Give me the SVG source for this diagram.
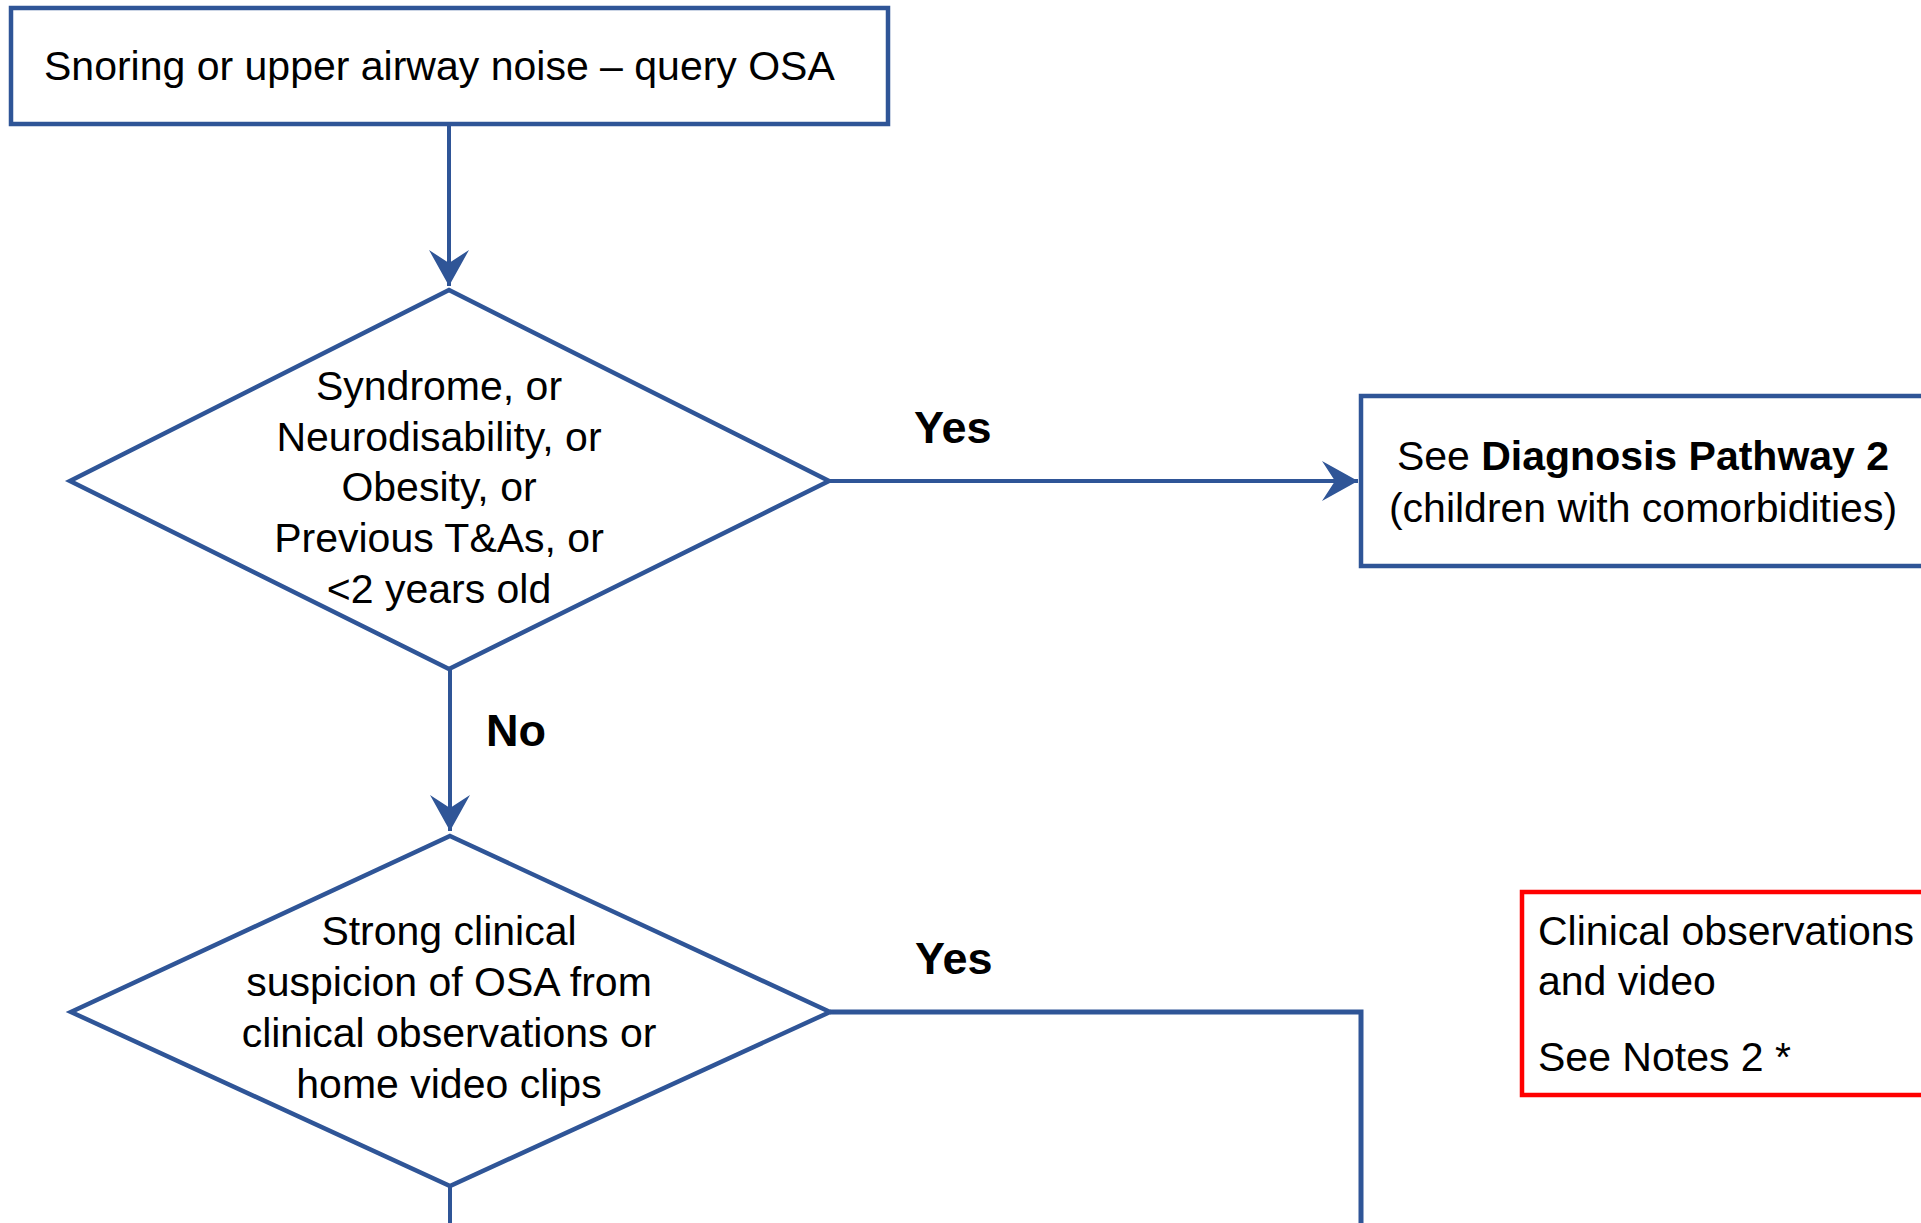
<svg xmlns="http://www.w3.org/2000/svg" width="1921" height="1223" viewBox="0 0 1921 1223">
<style>
.box{fill:#ffffff;stroke:#2f5597;stroke-width:4.5}
.red{fill:#ffffff;stroke:#ff0000;stroke-width:4.5}
.dia{fill:#ffffff;stroke:#2f5597;stroke-width:4.5}
.con{fill:none;stroke:#2f5597;stroke-width:4}
.t{font-family:"Liberation Sans",Arial,sans-serif;font-size:41px;fill:#000000}
.c{text-anchor:middle}
.b{font-weight:bold}
.lbl{font-size:45px}
</style>
<defs>
<marker id="arr" markerUnits="userSpaceOnUse" markerWidth="40" markerHeight="44" viewBox="-38 -22 40 44" refX="0" refY="0" orient="auto">
<path d="M-36,-20 L0,0 L-36,20 L-23,0 Z" fill="#2f5597"/>
</marker>
</defs>
<rect width="1921" height="1223" fill="#ffffff"/>
<g id="connectors">
<line class="con" x1="449" y1="124" x2="449" y2="286" marker-end="url(#arr)"/>
<line class="con" x1="829" y1="481" x2="1358" y2="481" marker-end="url(#arr)"/>
<line class="con" x1="450" y1="669" x2="450" y2="831" marker-end="url(#arr)"/>
<polyline class="con" style="stroke-width:5" points="830,1012 1361,1012 1361,1223"/>
<line class="con" x1="450" y1="1186" x2="450" y2="1223"/>
<text class="t b lbl" x="914" y="443">Yes</text>
<text class="t b lbl" x="486" y="746">No</text>
<text class="t b lbl" x="915" y="974">Yes</text>
</g>
<g id="start">
<rect class="box" x="11" y="8" width="877" height="116"/>
<text class="t" x="44" y="80">Snoring or upper airway noise – query OSA</text>
</g>
<g id="decision1">
<polygon class="dia" points="449,290 829,481 449,669 70,481"/>
<text class="t c" x="439" y="400">Syndrome, or</text>
<text class="t c" x="439" y="451">Neurodisability, or</text>
<text class="t c" x="439" y="501">Obesity, or</text>
<text class="t c" x="439" y="552">Previous T&amp;As, or</text>
<text class="t c" x="439" y="603">&lt;2 years old</text>
</g>
<g id="pathway2">
<rect class="box" x="1361" y="396" width="600" height="170"/>
<text class="t c" x="1643" y="470">See <tspan class="b">Diagnosis Pathway 2</tspan></text>
<text class="t c" x="1643" y="522">(children with comorbidities)</text>
</g>
<g id="decision2">
<polygon class="dia" points="450,836 830,1012 450,1186 71,1012"/>
<text class="t c" x="449" y="945">Strong clinical</text>
<text class="t c" x="449" y="996">suspicion of OSA from</text>
<text class="t c" x="449" y="1047">clinical observations or</text>
<text class="t c" x="449" y="1098">home video clips</text>
</g>
<g id="notes">
<rect class="red" x="1522" y="892" width="500" height="203"/>
<text class="t" x="1538" y="945">Clinical observations</text>
<text class="t" x="1538" y="995">and video</text>
<text class="t" x="1538" y="1071">See Notes 2 *</text>
</g>
</svg>
